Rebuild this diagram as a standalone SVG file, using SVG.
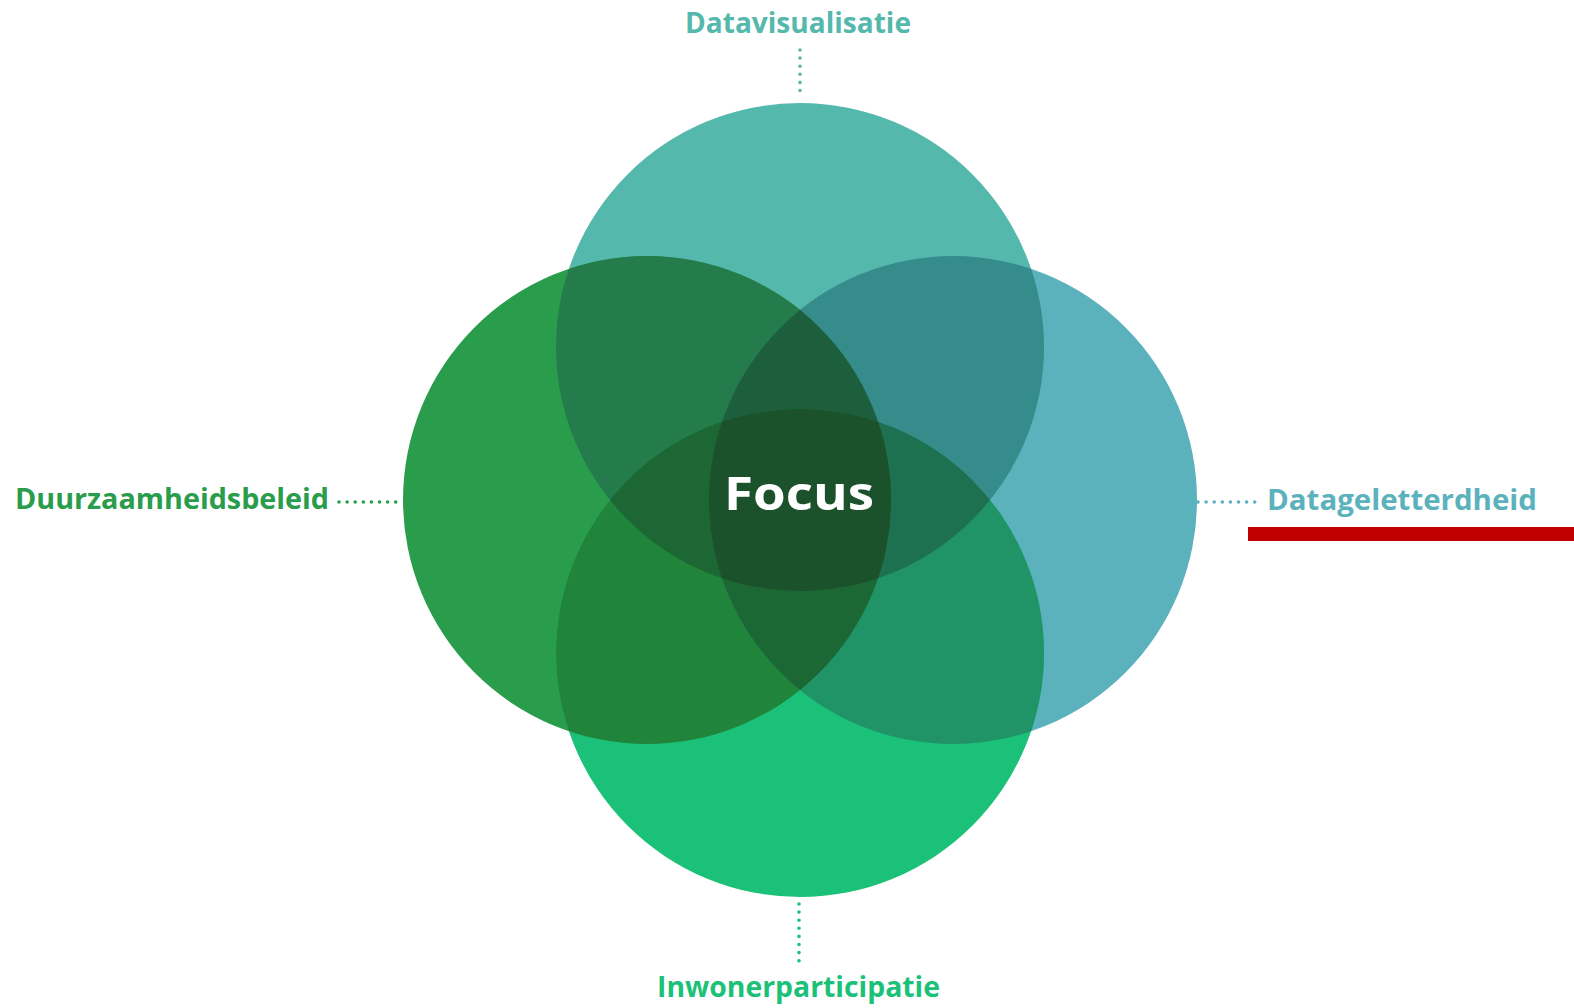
<svg xmlns="http://www.w3.org/2000/svg" width="1574" height="1008" viewBox="0 0 1574 1008">
  <style>
    .lbl { font-family: "Open Sans", Lato, "Noto Sans", "Liberation Sans", sans-serif; font-weight: 700; font-size: 28px; }
    .dots { fill: none; stroke-width: 3.6; stroke-linecap: round; stroke-dasharray: 0 8.1; }
  </style>
  <defs>
    <clipPath id="clipT"><circle cx="800" cy="347" r="244"/></clipPath>
    <clipPath id="clipL"><circle cx="647" cy="500" r="244"/></clipPath>
    <clipPath id="clipR"><circle cx="953" cy="500" r="244"/></clipPath>
    <clipPath id="clipB"><circle cx="800" cy="653" r="244"/></clipPath>
  </defs>
  <rect width="1574" height="1008" fill="#ffffff"/>

  <!-- four theme circles -->
  <g id="circle-datavisualisatie"><circle cx="800" cy="347" r="244" fill="#54b8ad"/></g>
  <g id="circle-duurzaamheidsbeleid"><circle cx="647" cy="500" r="244" fill="#2a9d4c"/></g>
  <g id="circle-datageletterdheid"><circle cx="953" cy="500" r="244" fill="#5bb1bc"/></g>
  <g id="circle-inwonerparticipatie"><circle cx="800" cy="653" r="244" fill="#1bc178"/></g>

  <!-- overlaps of two circles -->
  <g id="overlap-pairs">
    <g clip-path="url(#clipT)"><circle cx="647" cy="500" r="244" fill="#247c4c"/></g>
    <g clip-path="url(#clipT)"><circle cx="953" cy="500" r="244" fill="#358c8b"/></g>
    <g clip-path="url(#clipB)"><circle cx="647" cy="500" r="244" fill="#20853b"/></g>
    <g clip-path="url(#clipB)"><circle cx="953" cy="500" r="244" fill="#219467"/></g>
  </g>

  <!-- overlaps of three circles -->
  <g id="overlap-triples">
    <g clip-path="url(#clipT)"><g clip-path="url(#clipL)"><circle cx="953" cy="500" r="244" fill="#1d5f3c"/></g></g>
    <g clip-path="url(#clipT)"><g clip-path="url(#clipL)"><circle cx="800" cy="653" r="244" fill="#1c6733"/></g></g>
    <g clip-path="url(#clipT)"><g clip-path="url(#clipR)"><circle cx="800" cy="653" r="244" fill="#1d7050"/></g></g>
    <g clip-path="url(#clipL)"><g clip-path="url(#clipR)"><circle cx="800" cy="653" r="244" fill="#1c6835"/></g></g>
  </g>

  <!-- shared core -->
  <g id="focus">
    <g clip-path="url(#clipT)"><g clip-path="url(#clipL)"><g clip-path="url(#clipR)"><circle cx="800" cy="653" r="244" fill="#1b522b"/></g></g></g>
    <text x="724" y="510" textLength="150" lengthAdjust="spacingAndGlyphs" font-family="'Open Sans', Lato, 'Noto Sans', 'Liberation Sans', sans-serif" font-weight="700" font-size="47" fill="#ffffff">Focus</text>
  </g>

  <!-- dotted leader lines -->
  <g id="connectors">
    <line class="dots" x1="800" y1="50" x2="800" y2="98" stroke="#54b8ad" stroke-dasharray="0 6.75"/>
    <line class="dots" x1="339" y1="502" x2="397" y2="502" stroke="#2a9d4c"/>
    <line class="dots" x1="1198" y1="502" x2="1256" y2="502" stroke="#5bb1bc"/>
    <line class="dots" x1="799" y1="904" x2="799" y2="961" stroke="#1bc178"/>
  </g>

  <!-- labels -->
  <g id="label-datavisualisatie"><text class="lbl" x="685" y="33" textLength="226" lengthAdjust="spacingAndGlyphs" fill="#54b8ad">Datavisualisatie</text></g>
  <g id="label-duurzaamheidsbeleid"><text class="lbl" x="15" y="509" textLength="314" lengthAdjust="spacingAndGlyphs" fill="#2a9d4c">Duurzaamheidsbeleid</text></g>
  <g id="label-datageletterdheid">
    <text class="lbl" x="1267" y="510" textLength="270" lengthAdjust="spacingAndGlyphs" fill="#5bb1bc">Datageletterdheid</text>
    <rect x="1248" y="527" width="326" height="14" fill="#c00000"/>
  </g>
  <g id="label-inwonerparticipatie"><text class="lbl" x="657" y="997" textLength="283" lengthAdjust="spacingAndGlyphs" fill="#1bc178">Inwonerparticipatie</text></g>
</svg>
